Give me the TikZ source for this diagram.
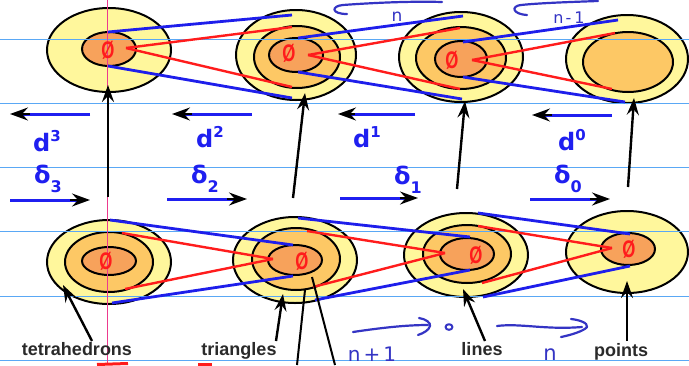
\documentclass[tikz,border=0pt]{standalone}
\usepackage{graphicx}
\usepackage{fontspec}
\setmainfont{Liberation Sans}
\newfontfamily\djv{DejaVu Sans}
\usetikzlibrary{shapes.geometric,arrows.meta}
\definecolor{yel}{HTML}{FFF79C}
\definecolor{midc}{HTML}{FDC865}
\definecolor{inn}{HTML}{F7A25B}
\definecolor{rd}{HTML}{FF1C1C}
\definecolor{bl}{HTML}{1E1EEB}
\definecolor{lblue}{HTML}{1F1FF0}
\definecolor{handc}{HTML}{3434C4}
\definecolor{rulec}{HTML}{5AA8F5}
\definecolor{pinkln}{HTML}{EC3A8E}
\definecolor{txt}{HTML}{2A2A2A}
\begin{document}
\begin{tikzpicture}[x=1pt,y=-1pt,
  ell/.style={ellipse,draw=black,line width=2pt,inner sep=0pt,outer sep=0pt},
  redln/.style={draw=rd,line width=2.4pt},
  blueln/.style={draw=bl,line width=2.8pt},
  zero/.style={text=rd,font={\bfseries\fontsize{24}{24}\selectfont},inner sep=0pt},
  blkarr/.style={draw=black,line width=2.4pt,-{Stealth[length=17pt,width=12pt,inset=6pt]}},
  blueshaft/.style={draw=lblue,line width=3pt,shorten >=8pt},
  bluetip/.style={draw=black,line width=2pt,shorten <=60pt,-{Stealth[length=18pt,width=13pt,inset=6pt]}},
  lbl/.style={text=lblue,font={\djv\bfseries\fontsize{24}{26}\selectfont},inner sep=0pt,anchor=base west},
  capt/.style={text=txt,font={\bfseries\fontsize{18}{20}\selectfont},inner sep=0pt,anchor=base},
  handln/.style={draw=handc,line width=2.2pt,line cap=round,line join=round},
  handtxt/.style={text=handc,inner sep=0pt,anchor=base},
  ruleln/.style={draw=rulec,line width=0.9pt}
]
\useasboundingbox[fill=white] (0,0) rectangle (689,365);

% ---------- top row ellipses ----------
\node[ell,fill=yel,minimum width=124pt,minimum height=84pt] (t1o) at (109,50) {};
\node[ell,fill=inn,minimum width=54pt,minimum height=34pt] (t1i) at (109,49) {};

\node[ell,fill=yel,minimum width=120pt,minimum height=90pt] (t2o) at (296,55) {};
\node[ell,fill=midc,minimum width=86pt,minimum height=62pt] (t2m) at (297,57) {};
\node[ell,fill=inn,minimum width=54pt,minimum height=34pt] (t2i) at (296,55) {};

\node[ell,fill=yel,minimum width=124pt,minimum height=90pt] (t3o) at (461,57) {};
\node[ell,fill=midc,minimum width=90pt,minimum height=62pt] (t3m) at (461,58) {};
\node[ell,fill=inn,minimum width=52pt,minimum height=36pt] (t3i) at (461,59) {};

\node[ell,fill=yel,minimum width=122pt,minimum height=88pt] (t4o) at (627,59) {};
\node[ell,fill=midc,minimum width=90pt,minimum height=60pt] (t4i) at (628,62) {};

% ---------- bottom row ellipses ----------
\node[ell,fill=yel,minimum width=124pt,minimum height=84pt] (b1o) at (109,262) {};
\node[ell,fill=midc,minimum width=88pt,minimum height=60pt] (b1m) at (109,262) {};
\node[ell,fill=inn,minimum width=54pt,minimum height=28pt] (b1i) at (109,261) {};

\node[ell,fill=yel,minimum width=124pt,minimum height=86pt] (b2o) at (295,260) {};
\node[ell,fill=midc,minimum width=88pt,minimum height=62pt] (b2m) at (296,259) {};
\node[ell,fill=inn,minimum width=54pt,minimum height=30pt] (b2i) at (295,260) {};

\node[ell,fill=yel,minimum width=124pt,minimum height=84pt] (b3o) at (466,255) {};
\node[ell,fill=midc,minimum width=88pt,minimum height=58pt] (b3m) at (467,254) {};
\node[ell,fill=inn,minimum width=54pt,minimum height=32pt] (b3i) at (467,254) {};

\node[ell,fill=yel,minimum width=122pt,minimum height=82pt] (b4o) at (627,252) {};
\node[ell,fill=inn,minimum width=54pt,minimum height=32pt] (b4i) at (628,249) {};

% ---------- ruled paper lines ----------
\foreach \yy in {39,103,167.5,231.5,296,360} \draw[ruleln] (0,\yy) -- (689,\yy);
\draw[draw=pinkln,line width=0.8pt] (107,0) -- (107,365);

% ---------- connector end points ----------
% top
\coordinate (t1r) at (126,48);  \coordinate (t1it) at (108,32); \coordinate (t1ib) at (108,66);
\coordinate (t2mt) at (292,27); \coordinate (t2mb) at (292,87);
\coordinate (t2ot) at (292,15); \coordinate (t2ob) at (292,98);
\coordinate (t2r) at (308,55);  \coordinate (t2it) at (298,38); \coordinate (t2ib) at (298,72);
\coordinate (t3mt) at (460,28); \coordinate (t3mb) at (460,89);
\coordinate (t3ot) at (463,16); \coordinate (t3ob) at (462,99);
\coordinate (t3r) at (472,60);  \coordinate (t3it) at (463,42); \coordinate (t3ib) at (463,77);
\coordinate (t4it) at (615,33); \coordinate (t4ib) at (612,89);
\coordinate (t4ot) at (618,20); \coordinate (t4ob) at (625,102);
% bottom
\coordinate (b2r) at (273,259); \coordinate (b2it) at (293,245); \coordinate (b2ib) at (293,276);
\coordinate (b1mt) at (122,233); \coordinate (b1mb) at (125,289);
\coordinate (b1ot) at (110,220); \coordinate (b1ob) at (112,303);
\coordinate (b3r) at (445,253); \coordinate (b3it) at (470,237); \coordinate (b3ib) at (470,270);
\coordinate (b2mt) at (307,231); \coordinate (b2mb) at (313,287);
\coordinate (b2ot) at (298,218); \coordinate (b2ob) at (315,300);
\coordinate (b4r) at (612,248); \coordinate (b4it) at (630,234); \coordinate (b4ib) at (630,266);
\coordinate (b3mt) at (478,226); \coordinate (b3mb) at (482,283);
\coordinate (b3ot) at (478,213); \coordinate (b3ob) at (483,297);

% ---------- blue and red connectors ----------
\draw[blueln] (t1it) -- (t2ot); \draw[blueln] (t1ib) -- (t2ob);
\draw[redln] (t1r) -- (t2mt);   \draw[redln] (t1r) -- (t2mb);
\draw[blueln] (t2it) -- (t3ot); \draw[blueln] (t2ib) -- (t3ob);
\draw[redln] (t2r) -- (t3mt);   \draw[redln] (t2r) -- (t3mb);
\draw[blueln] (t3it) -- (t4ot); \draw[blueln] (t3ib) -- (t4ob);
\draw[redln] (t3r) -- (t4it);   \draw[redln] (t3r) -- (t4ib);

\draw[blueln] (b2it) -- (b1ot); \draw[blueln] (b2ib) -- (b1ob);
\draw[redln] (b2r) -- (b1mt);   \draw[redln] (b2r) -- (b1mb);
\draw[blueln] (b3it) -- (b2ot); \draw[blueln] (b3ib) -- (b2ob);
\draw[redln] (b3r) -- (b2mt);   \draw[redln] (b3r) -- (b2mb);
\draw[blueln] (b4it) -- (b3ot); \draw[blueln] (b4ib) -- (b3ob);
\draw[redln] (b4r) -- (b3mt);   \draw[redln] (b4r) -- (b3mb);

% ---------- empty-set symbols ----------
\node[zero] (z1) at (108,50) {\scalebox{0.7}[1]{Ø}};
\node[zero] (z2) at (289,53) {\scalebox{0.7}[1]{Ø}};
\node[zero] (z3) at (452,60) {\scalebox{0.7}[1]{Ø}};
\node[zero] (zb1) at (106,261) {\scalebox{0.7}[1]{Ø}};
\node[zero] (zb2) at (302,261) {\scalebox{0.7}[1]{Ø}};
\node[zero] (zb3) at (476,255) {\scalebox{0.7}[1]{Ø}};
\node[zero] (zb4) at (629,249) {\scalebox{0.7}[1]{Ø}};

% ---------- vertical black arrows ----------
\coordinate (a1s) at (108,197); \coordinate (a1e) at (108,85);
\coordinate (a2s) at (293,198); \coordinate (a2e) at (305,93);
\coordinate (a3s) at (457,189); \coordinate (a3e) at (465,101);
\coordinate (a4s) at (628,187); \coordinate (a4e) at (634,98);
\draw[blkarr] (a1s) -- (a1e);
\draw[blkarr] (a2s) -- (a2e);
\draw[blkarr] (a3s) -- (a3e);
\draw[blkarr] (a4s) -- (a4e);

% ---------- d and delta arrows (blue shaft, black head) ----------
\coordinate (d3s) at (90,114);  \coordinate (d3e) at (10,114);
\coordinate (d2s) at (252,114); \coordinate (d2e) at (172,114);
\coordinate (d1s) at (415,114); \coordinate (d1e) at (338,114);
\coordinate (d0s) at (612,115); \coordinate (d0e) at (532,115);
\coordinate (e3s) at (10,200);  \coordinate (e3e) at (90,200);
\coordinate (e2s) at (167,199); \coordinate (e2e) at (247,199);
\coordinate (e1s) at (340,198); \coordinate (e1e) at (418,198);
\coordinate (e0s) at (530,199); \coordinate (e0e) at (610,199);
\foreach \a in {d3,d2,d1,d0,e3,e2,e1,e0}{
  \draw[blueshaft] (\a s) -- (\a e);
  \draw[bluetip] (\a s) -- (\a e);
}

\node[lbl] (ld3) at (33,151) {d\raisebox{10pt}{\fontsize{15}{15}\selectfont 3}};
\node[lbl] (ld2) at (196,147) {d\raisebox{10pt}{\fontsize{15}{15}\selectfont 2}};
\node[lbl] (ld1) at (353,147) {d\raisebox{10pt}{\fontsize{15}{15}\selectfont 1}};
\node[lbl] (ld0) at (558,150) {d\raisebox{10pt}{\fontsize{15}{15}\selectfont 0}};
\node[lbl] (le3) at (34,183) {δ\raisebox{-9pt}{\fontsize{16}{16}\selectfont 3}};
\node[lbl] (le2) at (191,183) {δ\raisebox{-9pt}{\fontsize{16}{16}\selectfont 2}};
\node[lbl] (le1) at (394,184) {δ\raisebox{-9pt}{\fontsize{16}{16}\selectfont 1}};
\node[lbl] (le0) at (554,183) {δ\raisebox{-9pt}{\fontsize{16}{16}\selectfont 0}};

% ---------- captions and their arrows ----------
\node[capt] (ctet) at (77,355) {tetrahedrons};
\node[capt] (ctri) at (239,355) {triangles};
\node[capt] (clin) at (482,355) {lines};
\node[capt] (cpts) at (621,356) {points};
\coordinate (k1s) at (92,341);  \coordinate (k1e) at (63,285);
\coordinate (k2s) at (276,341); \coordinate (k2e) at (283,294);
\coordinate (k3s) at (485,341); \coordinate (k3e) at (463,289);
\coordinate (k4s) at (627,341); \coordinate (k4e) at (627,281);
\draw[blkarr] (k1s) -- (k1e);
\draw[blkarr] (k2s) -- (k2e);
\draw[blkarr] (k3s) -- (k3e);
\draw[blkarr] (k4s) -- (k4e);
\coordinate (p1s) at (305,290); \coordinate (p1e) at (297,365);
\coordinate (p2s) at (312,277); \coordinate (p2e) at (335,365);
\draw[black,line width=2pt] (p1s) -- (p1e);
\draw[black,line width=2pt] (p2s) -- (p2e);

% ---------- handwriting ----------
\draw[handln] (442,2) .. controls (410,1) and (370,3) .. (343,5) .. controls (331,6) and (331,14) .. (347,14);
\draw[handln] (598,1) .. controls (570,2) and (540,3) .. (521,5) .. controls (511,6) and (512,14) .. (527,15);
\node[handtxt,font={\djv\fontsize{17}{17}\selectfont}] (hn1) at (397,21) {n};
\node[handtxt,font={\djv\fontsize{16}{16}\selectfont}] (hn2) at (569,23) {n\kern2pt-\kern3pt1};

\draw[handln] (353,332) .. controls (380,328) and (405,325) .. (428,325);
\draw[handln] (419,318) .. controls (426,319) and (431,323) .. (430,326) .. controls (429,330) and (424,333) .. (418,335);
\draw[handln,line width=2pt] (449,327) ellipse [x radius=3.5, y radius=2.8];
\draw[handln] (497,326) .. controls (520,323) and (545,330) .. (582,327);
\draw[handln] (571,319) .. controls (580,320) and (588,323) .. (587,327) .. controls (584,331) and (571,335) .. (561,337);
\node[handtxt,font={\djv\fontsize{20}{20}\selectfont}] (hn3) at (372,361) {n\kern3pt+\kern3pt1};
\node[handtxt,font={\djv\fontsize{21}{21}\selectfont}] (hn4) at (550,360) {n};

% ---------- red marks at the bottom edge ----------
\draw[rd,line width=3pt] (97,364.5) -- (128,363.5);
\draw[rd,line width=2.5pt] (198,364.5) -- (212,364.5);
\end{tikzpicture}
\end{document}
